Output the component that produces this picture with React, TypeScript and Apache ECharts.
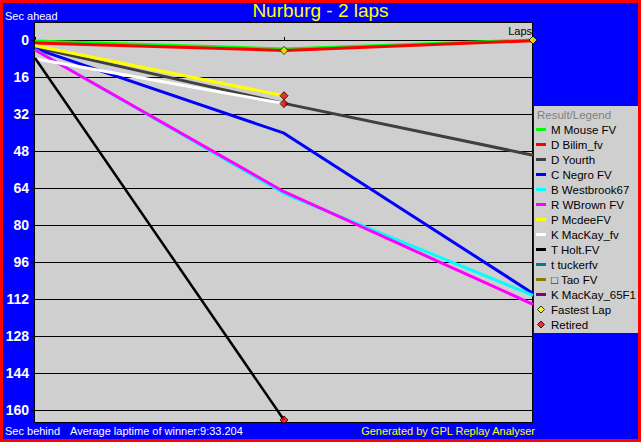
import React, { useEffect, useRef } from "react";
import * as echarts from "echarts";

const laps = [0, 1, 2];
const driverNames = [
  "M Mouse FV",
  "D Bilim_fv",
  "D Yourth",
  "C Negro FV",
  "B Westbrook67",
  "R WBrown FV",
  "P McdeeFV",
  "K MacKay_fv",
  "T Holt.FV",
  "t tuckerfv",
  "□ Tao FV",
  "K MacKay_65F1",
];
const driverColors = [
  "#00ff00",
  "#ff0000",
  "#404040",
  "#0000ff",
  "#00ffff",
  "#ff00ff",
  "#ffff00",
  "#ffffff",
  "#000000",
  "#008080",
  "#808000",
  "#800080",
];
// seconds behind per lap (lap 0, 1, 2)
const mouse = [0.4, 3.9, 0];
const bilim = [1.3, 4.5, 0.3];
const yourth = [3.2, 27.4, 49.8];
const negro = [3.7, 40.3, 109.6];
const westbrook = [4.1, 66.4, 110.4];
const wbrown = [4.3, 65.6, 114.3];
const mcdee = [2.5, 24.1];
const mackayFv = [8.1, 27.5];
const holt = [7.8, 164.3];
const tucker: number[] = [];
const tao: number[] = [];
const mackay65: number[] = [];
const driverValues = [mouse, bilim, yourth, negro, westbrook, wbrown, mcdee, mackayFv, holt, tucker, tao, mackay65];

const fastestLap = [
  [1, 4.5],
  [2, 0],
];
const retired = [
  [1, 24.1],
  [1, 27.5],
  [1, 164.3],
];
const yTicks = { min: 0, max: 160, interval: 16 };

const FONT = "'Liberation Sans', Arial, sans-serif";

export default function App() {
  const ref = useRef<HTMLDivElement>(null);
  useEffect(() => {
    if (!ref.current) return;
    const chart = echarts.init(ref.current, null, { renderer: "svg" });
    const lineSeries = driverNames.map((name, i) => ({
      name,
      type: "line",
      data: driverValues[i].map((v, k) => [laps[k], v]),
      symbol: "none",
      showSymbol: false,
      clip: false,
      lineStyle: { width: i === 8 ? 2.5 : 3, color: driverColors[i] },
      itemStyle: { color: driverColors[i] },
      z: 2 + i * 0.01,
    }));
    const diamond = "path://M5,0L10,5L5,10L0,5Z";
    const bar = "path://M0,0L10,0L10,3L0,3Z";
    chart.setOption({
      animation: false,
      backgroundColor: "#0000ff",
      textStyle: { fontFamily: FONT },
      title: {
        text: "Nurburg - 2 laps",
        left: "center",
        top: 1,
        padding: 0,
        textStyle: { color: "#ffff00", fontSize: 19, fontWeight: "normal", fontFamily: FONT },
      },
      grid: { left: 35, right: 108, top: 40, bottom: 32 },
      xAxis: {
        type: "value",
        min: 0,
        max: 2,
        interval: 1,
        position: "top",
        axisLine: { show: true, onZero: false, lineStyle: { color: "#000", width: 1 } },
        axisTick: { show: true, length: 3, lineStyle: { color: "#000" } },
        axisLabel: { show: false },
        splitLine: { show: false },
      },
      yAxis: {
        type: "value",
        inverse: true,
        min: yTicks.min,
        max: yTicks.max,
        interval: yTicks.interval,
        axisLine: { show: false },
        axisTick: { show: true, length: 4, lineStyle: { color: "#000" } },
        axisLabel: { color: "#ffffff", fontWeight: "bold", fontSize: 14, margin: 6, fontFamily: FONT },
        splitLine: { show: true, lineStyle: { color: "#000", width: 1 } },
      },
      legend: {
        orient: "vertical",
        left: 536,
        top: 122,
        padding: 0,
        itemGap: 0,
        itemWidth: 10,
        itemHeight: 7,
        textStyle: { color: "#000", fontSize: 11.5, lineHeight: 15, fontFamily: FONT },
        data: [
          ...driverNames.map((n, i) => ({
            name: n,
            icon: bar,
            itemStyle: { color: driverColors[i], borderWidth: 0 },
          })),
          {
            name: "Fastest Lap",
            icon: diamond,
            itemStyle: { color: "#ffff00", borderColor: "#000", borderWidth: 1 },
          },
          {
            name: "Retired",
            icon: diamond,
            itemStyle: { color: "#ff0000", borderColor: "#000", borderWidth: 1 },
          },
        ],
      },
      graphic: [
        {
          type: "rect",
          z: -5,
          shape: { x: 34.5, y: 22.5, width: 498, height: 400 },
          style: { fill: "#cfcfcf", stroke: "#000", lineWidth: 1 },
        },
        {
          type: "rect",
          z: -5,
          shape: { x: 534, y: 106, width: 104, height: 227 },
          style: { fill: "#cfcfcf" },
        },
        {
          type: "rect",
          z: 50,
          silent: true,
          shape: { x: 1.5, y: 1.5, width: 638, height: 439 },
          style: { fill: "none", stroke: "#ff0000", lineWidth: 3 },
        },
        {
          type: "text",
          x: 537,
          y: 115,
          style: { text: "Result/Legend", fill: "#808080", font: `11.5px ${FONT}`, textVerticalAlign: "middle" },
        },
        {
          type: "text",
          x: 5,
          y: 16,
          style: { text: "Sec ahead", fill: "#ffffff", font: `11px ${FONT}`, textVerticalAlign: "middle" },
        },
        {
          type: "text",
          x: 532,
          y: 31,
          style: { text: "Laps", fill: "#000", font: `11px ${FONT}`, textAlign: "right", textVerticalAlign: "middle" },
        },
        {
          type: "text",
          x: 5,
          y: 431,
          style: { text: "Sec behind", fill: "#ffffff", font: `11px ${FONT}`, textVerticalAlign: "middle" },
        },
        {
          type: "text",
          x: 70,
          y: 431,
          style: {
            text: "Average laptime of winner:9:33.204",
            fill: "#ffffff",
            font: `11px ${FONT}`,
            textVerticalAlign: "middle",
          },
        },
        {
          type: "text",
          x: 535,
          y: 431,
          style: {
            text: "Generated by GPL Replay Analyser",
            fill: "#ffff00",
            font: `11px ${FONT}`,
            textAlign: "right",
            textVerticalAlign: "middle",
          },
        },
      ],
      series: [
        ...lineSeries,
        {
          name: "Fastest Lap",
          type: "scatter",
          data: fastestLap,
          symbol: "diamond",
          symbolSize: 8,
          clip: false,
          z: 5,
          itemStyle: { color: "#ffff00", borderColor: "#000", borderWidth: 1 },
        },
        {
          name: "Retired",
          type: "scatter",
          data: retired,
          symbol: "diamond",
          symbolSize: 8,
          clip: false,
          z: 5,
          itemStyle: { color: "#ff0000", borderColor: "#000", borderWidth: 1 },
        },
      ],
    });
    return () => chart.dispose();
  }, []);
  return (
    <div style={{ position: "absolute", left: 0, top: 0, width: 641, height: 442 }}>
      <div ref={ref} style={{ width: 641, height: 442 }} />
    </div>
  );
}
